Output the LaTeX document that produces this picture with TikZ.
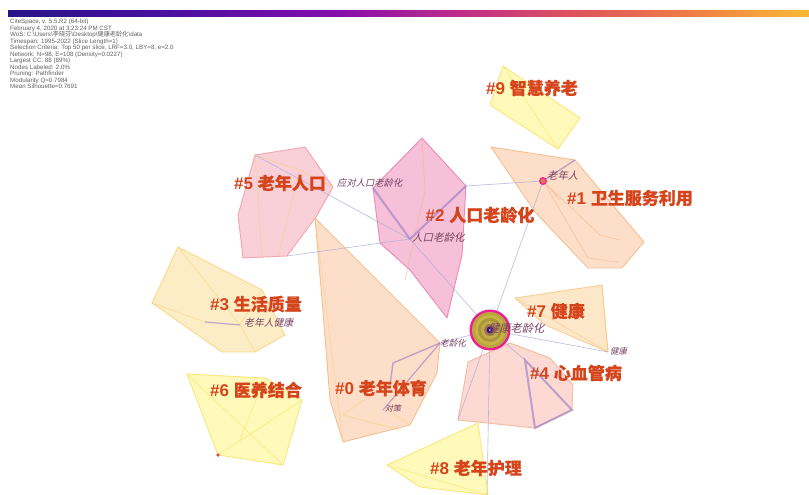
\documentclass[tikz,border=0pt]{standalone}
\usepackage{fontspec}
\setmainfont{Liberation Sans}
\newfontfamily\cjk{Noto Sans CJK SC}
\newfontfamily\cjkm[FakeBold=0.6]{Noto Sans CJK SC}
\newfontfamily\cjkit[FakeSlant=0.22]{Noto Sans CJK SC}
\newfontfamily\hdr{Liberation Sans}
\newcommand\myhdrskip{\lineskiplimit=-20pt\relax\lineskip=0pt\relax}
\definecolor{lblred}{RGB}{214,68,28}
\definecolor{nodelbl}{RGB}{120,66,100}
\definecolor{edgeblue}{RGB}{170,170,215}
\definecolor{edgepurple}{RGB}{150,120,200}
\definecolor{cPink}{RGB}{246,176,190}
\definecolor{cPinkB}{RGB}{240,150,165}
\definecolor{cMag}{RGB}{240,150,190}
\definecolor{cMagB}{RGB}{232,120,170}
\definecolor{cPeach}{RGB}{250,200,165}
\definecolor{cPeachB}{RGB}{245,180,130}
\definecolor{cRose}{RGB}{250,192,182}
\definecolor{cRoseB}{RGB}{245,175,140}
\definecolor{cLOr}{RGB}{252,215,165}
\definecolor{cLOrB}{RGB}{248,200,130}
\definecolor{cSand}{RGB}{253,225,160}
\definecolor{cSandB}{RGB}{250,210,120}
\definecolor{cYel}{RGB}{255,246,140}
\definecolor{cYelB}{RGB}{250,225,100}
\definecolor{bar1}{RGB}{38,20,135}
\definecolor{bar2}{RGB}{75,15,160}
\definecolor{bar3}{RGB}{130,15,170}
\definecolor{bar4}{RGB}{190,45,140}
\definecolor{bar5}{RGB}{220,80,95}
\definecolor{bar6}{RGB}{238,125,70}
\definecolor{bar7}{RGB}{250,185,55}
\tikzset{
  clus/.style 2 args={fill=#1,fill opacity=0.6,draw=#2,draw opacity=0.8,line width=0.9pt,line join=round},
  inner/.style={draw=#1,opacity=0.55,line width=0.8pt},
  clab/.style={text=lblred,font=\bfseries\fontsize{17}{17}\selectfont,inner sep=0pt,anchor=center},
  nlab/.style={text=nodelbl,font=\cjkit\fontsize{#1}{#1}\selectfont,inner sep=0pt,anchor=west},
  fedge/.style={draw=edgeblue,line width=0.6pt,opacity=0.8},
  pedge/.style={draw=edgepurple,line width=2pt,opacity=0.6},
  hdrtext/.style={text=black!62,font=\hdr\fontsize{6.2}{6.5}\selectfont\myhdrskip,align=left,inner sep=0pt,anchor=north west}
}
\begin{document}
\begin{tikzpicture}[x=1pt,y=-1pt]
\path[use as bounding box,fill=white] (0,0) rectangle (809,495);
% colour bar
\shade[left color=bar1,right color=bar2] (8,11) rectangle (170,16.5);
\shade[left color=bar2,right color=bar3] (170,11) rectangle (335,16.5);
\shade[left color=bar3,right color=bar4] (335,11) rectangle (460,16.5);
\shade[left color=bar4,right color=bar5] (460,11) rectangle (565,16.5);
\shade[left color=bar5,right color=bar6] (565,11) rectangle (690,16.5);
\shade[left color=bar6,right color=bar7] (690,11) rectangle (809,16.5);
% header text
\node[hdrtext] (hdr) at (10,19) {CiteSpace, v. 5.5.R2 (64-bit)\\
February 4, 2020 at 3:23:24 PM CST\\
WoS: C:\textbackslash Users\textbackslash{\cjk 李晓芬}\textbackslash Desktop\textbackslash{\cjk 健康老龄化}\textbackslash data\\
Timespan: 1995-2022 (Slice Length=1)\\
Selection Criteria: Top 50 per slice, LRF=3.0, LBY=8, e=2.0\\
Network: N=98, E=108 (Density=0.0227)\\
Largest CC: 88 (89\%)\\
Nodes Labeled: 2.0\%\\
Pruning: Pathfinder\\
Modularity Q=0.7984\\
Mean Silhouette=0.7691};

% ---- cluster hulls ----
% #9
\filldraw[clus={cYel}{cYelB}] (503,66) -- (580,118) -- (558,149) -- (490,105) -- cycle;
\draw[inner=cYelB] (503,66) -- (558,149);
% #1
\filldraw[clus={cPeach}{cPeachB}] (491,147) -- (575,160) -- (644,242) -- (622,268) -- (588,268) -- (535,212) -- cycle;
\draw[inner=cPeachB] (543,181) -- (575,160) (543,181) -- (588,258) -- (618,262) (543,181) -- (600,235) -- (620,240) (543,181) -- (560,200);
% #5
\filldraw[clus={cPink}{cPinkB}] (255,155) -- (305,147) -- (333,187) -- (316,217) -- (287,256) -- (243,258) -- (238,215) -- cycle;
\draw[inner=cSandB] (255,155) -- (300,170) -- (333,187) (255,155) -- (262,258) (300,170) -- (278,256);
% #2
\filldraw[clus={cMag}{cMagB}] (422,138) -- (466,186) -- (462,255) -- (447,318) -- (410,270) -- (380,243) -- (373,188) -- cycle;
\draw[inner=cPeachB] (422,138) -- (425,190) -- (405,280);
% #0
\filldraw[clus={cPeach}{cPeachB}] (315,218) -- (440,343) -- (437,373) -- (410,425) -- (343,442) -- (330,400) -- (322,300) -- cycle;
\draw[inner=cSandB] (315,218) -- (343,442) (343,415) -- (392,380) (343,415) -- (400,430) (410,425) -- (385,408);
% #3
\filldraw[clus={cSand}{cSandB}] (178,247) -- (262,290) -- (285,335) -- (255,352) -- (222,352) -- (152,303) -- cycle;
\draw[inner=cSandB] (178,247) -- (240,325) (152,303) -- (205,322) (240,325) -- (262,290) (240,325) -- (255,352);
% #6
\filldraw[clus={cYel}{cYelB}] (187,374) -- (265,378) -- (302,400) -- (283,465) -- (218,455) -- cycle;
\draw[inner=cYelB] (187,374) -- (283,465) (218,455) -- (302,400) (265,378) -- (240,440);
% #4
\filldraw[clus={cRose}{cRoseB}] (468,362) -- (510,343) -- (550,358) -- (573,385) -- (572,410) -- (535,428) -- (458,420) -- cycle;
% #7
\filldraw[clus={cLOr}{cLOrB}] (515,298) -- (602,285) -- (608,352) -- (545,325) -- cycle;
\draw[inner=cLOrB] (515,298) -- (608,352) (602,285) -- (608,352);
% #8
\filldraw[clus={cYel}{cYelB}] (387,465) -- (478,423) -- (488,495) -- (420,487) -- cycle;
\draw[inner=cYelB] (387,465) -- (488,495);

% ---- nodes ----
\coordinate (nRK) at (410,239);
\coordinate (nLNR) at (543,181);
\coordinate (nLLH) at (440,343);
\coordinate (nDC) at (383,410);
\coordinate (nJK) at (608,352);
\coordinate (nLNJK) at (240,325);
\coordinate (nYD) at (255,155);
\coordinate (a2) at (466,186);
\coordinate (b2) at (373,188);
\coordinate (c5) at (287,256);
\coordinate (p4a) at (525,360);
\coordinate (p4b) at (572,410);
\coordinate (p4c) at (535,428);
\coordinate (b8) at (487,495);
\coordinate (b4) at (458,420);
\node[circle,minimum size=40pt,inner sep=0pt] (ctr) at (490,330) {};

% ---- faint edges ----
\draw[fedge] (ctr) -- (nRK);
\draw[fedge] (ctr) -- (nLNR);
\draw[fedge] (ctr) -- (nLLH);
\draw[fedge] (ctr) -- (nJK);
\draw[fedge] (ctr) -- (b8);
\draw[fedge] (ctr) -- (b4);
\draw[fedge] (ctr) -- (p4a);
\draw[fedge] (nRK) -- (nYD);
\draw[fedge] (nRK) -- (c5);
\draw[fedge] (nLNR) -- (a2);
% ---- strong edges ----
\draw[pedge] (nRK) -- (a2);
\draw[pedge] (nRK) -- (b2);
\draw[pedge] (p4a) -- (p4b) -- (p4c) -- cycle;
\draw[pedge,line width=1.4pt] (nLLH) -- (393,363) -- (390,385);
\draw[pedge,line width=1.2pt] (nLLH) -- (nDC);
\draw[pedge,line width=1.2pt] (205,322) -- (nLNJK);
\draw[pedge,line width=1.2pt] (nLNR) -- (575,160);

% central node
\fill[fill=magenta!85!pink] (490,330) circle (20.5);
\fill[fill={rgb,255:red,185;green,165;blue,60}] (490,330) circle (18);
\foreach \r/\c in {15/{rgb,255:red,200;green,180;blue,70},12/{rgb,255:red,170;green,150;blue,55},9/{rgb,255:red,195;green,170;blue,75},6/{rgb,255:red,160;green,120;blue,70}}
  \fill[fill=\c] (490,330) circle (\r);
\fill[fill={rgb,255:red,60;green,20;blue,130}] (490,330) circle (3.5);
\fill[white] (490,330) circle (1);
% 老年人 node
\filldraw[draw=magenta!80!pink,line width=1.3pt,fill={rgb,255:red,220;green,120;blue,90}] (nLNR) circle (3.3);
% dot in #6
\fill[fill={rgb,255:red,200;green,90;blue,90}] (218,455) circle (1.8);

% ---- node labels ----
\node[nlab=10.5] (lRK) at (412,238) {人口老龄化};
\node[nlab=9.3] (lYD) at (337,183) {应对人口老龄化};
\node[nlab=10.3] (lLNR) at (547,176) {老年人};
\node[nlab=9.8] (lLNJK) at (244,323) {老年人健康};
\node[nlab=11.2] (lJKL) at (488,328) {健康老龄化};
\node[nlab=8.6] (lLLH) at (440,343) {老龄化};
\node[nlab=8] (lDC) at (385,408) {对策};
\node[nlab=8.4] (lJK) at (610,351) {健康};

% ---- cluster labels ----
\node[clab] (L9) at (532,88) {\#9 {\cjkm 智慧养老}};
\node[clab] (L1) at (630,198) {\#1 {\cjkm 卫生服务利用}};
\node[clab] (L5) at (280,183) {\#5 {\cjkm 老年人口}};
\node[clab] (L2) at (480,215) {\#2 {\cjkm 人口老龄化}};
\node[clab] (L3) at (256,304) {\#3 {\cjkm 生活质量}};
\node[clab] (L7) at (556,311) {\#7 {\cjkm 健康}};
\node[clab] (L4) at (576,373) {\#4 {\cjkm 心血管病}};
\node[clab] (L6) at (256,390) {\#6 {\cjkm 医养结合}};
\node[clab] (L0) at (381,388) {\#0 {\cjkm 老年体育}};
\node[clab] (L8) at (476,468) {\#8 {\cjkm 老年护理}};
\end{tikzpicture}
\end{document}
